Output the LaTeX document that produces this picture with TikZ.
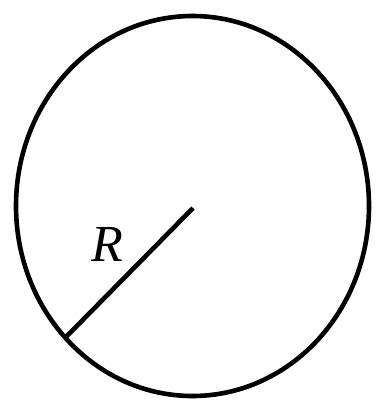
\documentclass[tikz,border=0pt]{standalone}
\usepackage{fontspec}
\setmainfont{Liberation Serif}
\usetikzlibrary{shapes.geometric}

\begin{document}
\begin{tikzpicture}[
  x=1pt,y=-1pt,
  rim/.style={draw,ellipse,line width=4.6pt,inner sep=0pt,outer sep=0pt,minimum width=353pt,minimum height=380pt},
  radius/.style={line width=4.6pt},
  label/.style={font=\fontsize{52}{54}\selectfont\itshape,inner sep=0pt}
]
  \useasboundingbox (0,0) rectangle (378,402);
  \coordinate (ctr) at (193,208);
  \node[rim] (circ) at (192.5,206) {};
  \node[label] (r) at (107,244) {R};

  \draw[radius] (ctr) -- (circ.226.5);
\end{tikzpicture}
\end{document}
